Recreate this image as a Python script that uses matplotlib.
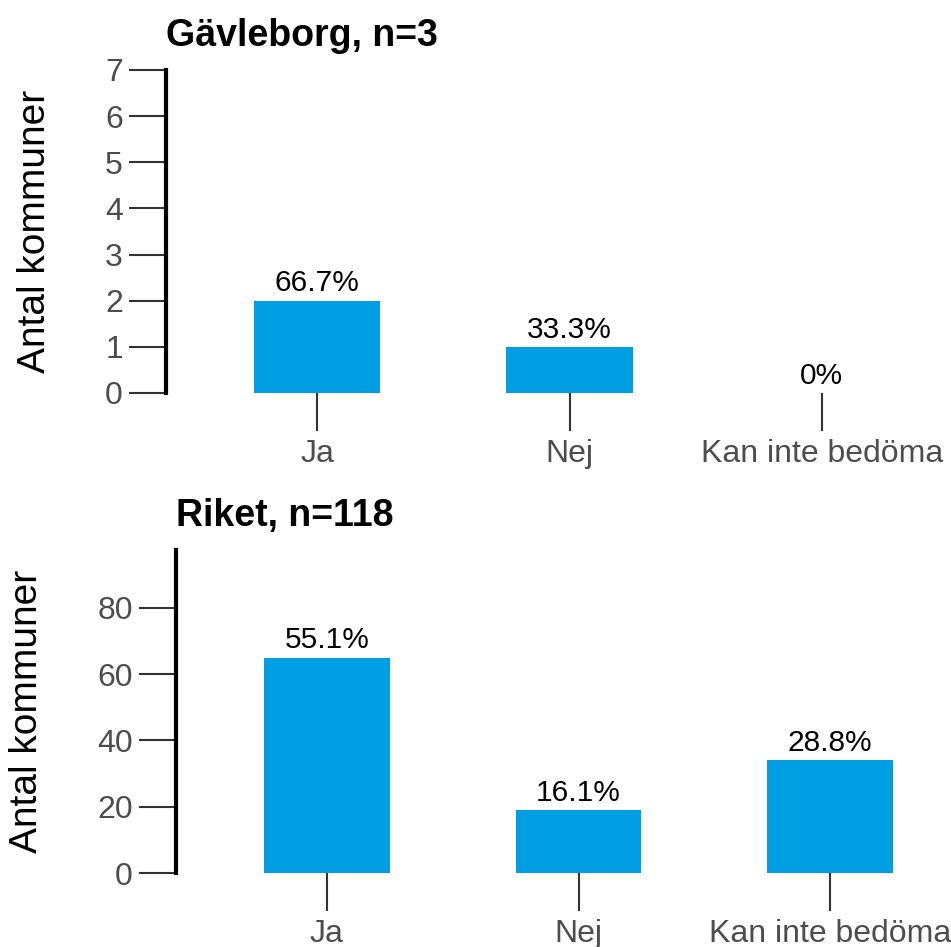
import matplotlib
matplotlib.use("Agg")
import matplotlib.pyplot as plt

plt.rcParams['font.family'] = ['Liberation Sans', 'DejaVu Sans']

categories = ["Ja", "Nej", "Kan inte bedöma"]

top_title = "Gävleborg, n=3"
top_counts = [2, 1, 0]
top_pcts = ["66.7%", "33.3%", "0%"]
top_yticks = [0, 1, 2, 3, 4, 5, 6, 7]
top_ymax = 7

bot_title = "Riket, n=118"
bot_counts = [65, 19, 34]
bot_pcts = ["55.1%", "16.1%", "28.8%"]
bot_yticks = [0, 20, 40, 60, 80]
bot_ymax = 97.5

bar_color = "#009fe3"
tick_color = "#333333"
W, H = 951, 947


def draw_panel(ax, title, counts, pcts, yticks, ymax):
    x = list(range(len(categories)))
    ax.bar(x, counts, width=0.5, color=bar_color)
    for xi, c, p in zip(x, counts, pcts):
        ax.text(xi, c + ymax * 0.01, p, ha='center', va='bottom',
                fontsize=21.5, color='black')
    ax.set_xlim(-0.6, 2.6)
    ax.set_ylim(0, ymax)
    ax.set_xticks(x)
    ax.set_xticklabels(categories)
    ax.set_yticks(yticks)
    for s in ['top', 'right', 'bottom']:
        ax.spines[s].set_visible(False)
    ax.spines['left'].set_linewidth(3)
    ax.spines['left'].set_color('black')
    ax.tick_params(axis='both', length=27, width=1.5, color=tick_color,
                   labelcolor='#4d4d4d', labelsize=23)
    ax.tick_params(axis='x', pad=6)
    ax.tick_params(axis='y', pad=4)
    ax.set_ylabel("Antal kommuner", fontsize=28, color='black', labelpad=37.5)
    ax.set_title(title, loc='left', fontsize=27, fontweight='bold', pad=17.5)


fig = plt.figure(figsize=(W / 100, H / 100), dpi=100)

# top panel: axis from x=166 to 973 px, y from 70 to 393 px
ax1 = fig.add_axes([166 / W, 1 - 393 / H, 807 / W, 323 / H])
draw_panel(ax1, top_title, top_counts, top_pcts, top_yticks, top_ymax)

# bottom panel
ax2 = fig.add_axes([176 / W, 1 - 873 / H, 805 / W, 323 / H])
draw_panel(ax2, bot_title, bot_counts, bot_pcts, bot_yticks, bot_ymax)

fig.savefig("out.png", dpi=100)
